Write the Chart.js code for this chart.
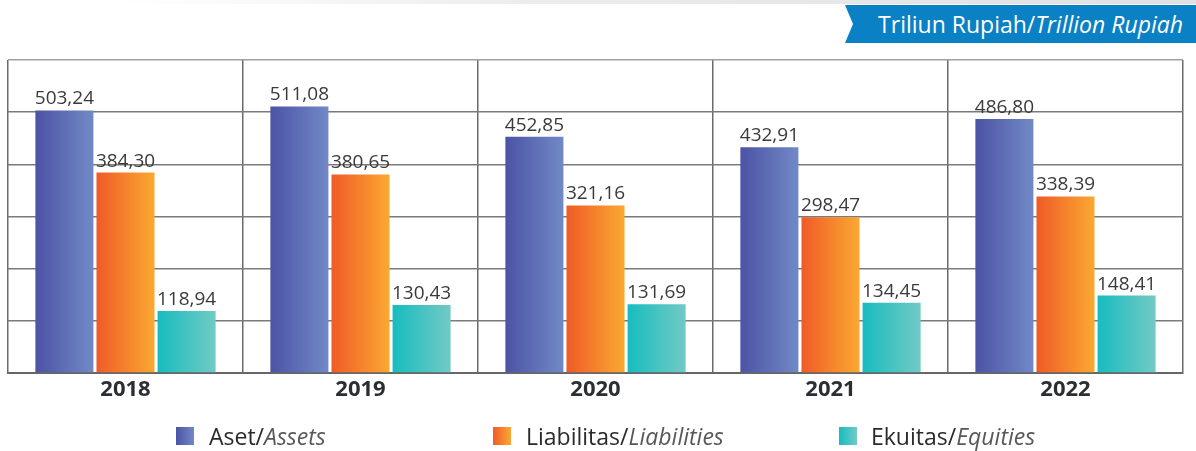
<!DOCTYPE html>
<html>
<head>
<meta charset="utf-8">
<script src="https://cdn.jsdelivr.net/npm/chart.js@4/dist/chart.umd.min.js"></script>
<style>
  html, body { margin: 0; padding: 0; background: #fff; }
  body { width: 1196px; height: 451px; position: relative; overflow: hidden; font-family: "Open Sans", sans-serif; }
  #strip { position: absolute; left: 0; top: 0; width: 1196px; height: 4px;
    background: linear-gradient(to right, #ffffff 10%, #ececee 45%, #e0e0e2 100%); }
  #banner { position: absolute; left: 845px; top: 5px; width: 351px; height: 38px; background: #0a80c5;
    clip-path: polygon(0 0, 100% 0, 100% 100%, 0 100%, 8px 50%); }
  #banner span.t { position: absolute; right: 13px; top: 4px; color: #fff; font-size: 23px; line-height: 30px; white-space: nowrap; }
  #wrap { position: absolute; left: 0; top: 0; width: 1196px; height: 451px; }
  .leg { position: absolute; top: 421px; font-size: 23px; line-height: 30px; color: #2a2a2a; white-space: nowrap; }
  .leg i { color: #585858; }
  .sw { position: absolute; top: 427px; width: 18px; height: 18px; }
</style>
</head>
<body>
<div id="strip"></div>
<div id="banner"><span class="t">Triliun Rupiah/<i>Trillion Rupiah</i></span></div>
<div id="wrap"><canvas id="c" width="1196" height="451"></canvas></div>
<div class="sw" id="sw0" style="left:176px"></div>
<div class="leg" style="left:209px">Aset/<i>Assets</i></div>
<div class="sw" id="sw1" style="left:493px"></div>
<div class="leg" style="left:526px">Liabilitas/<i>Liabilities</i></div>
<div class="sw" id="sw2" style="left:839px"></div>
<div class="leg" style="left:871px">Ekuitas/<i>Equities</i></div>
<script>
const years = ["2018", "2019", "2020", "2021", "2022"];
const assets = [503.24, 511.08, 452.85, 432.91, 486.80];
const liabilities = [384.30, 380.65, 321.16, 298.47, 338.39];
const equities = [118.94, 130.43, 131.69, 134.45, 148.41];
const yTicks = [0, 100, 200, 300, 400, 500, 600];

const gradStops = [
  ["#4c53a5", "#7189c6"],
  ["#f05a28", "#faa931"],
  ["#17bcbf", "#72cac5"]
];
gradStops.forEach((g, i) => {
  document.getElementById("sw" + i).style.background = `linear-gradient(to right, ${g[0]}, ${g[1]})`;
});

const gradientPlugin = {
  id: "barGradients",
  beforeDatasetsDraw(chart) {
    const ctx = chart.ctx;
    chart.data.datasets.forEach((ds, di) => {
      const meta = chart.getDatasetMeta(di);
      meta.data.forEach(bar => {
        const l = bar.x - bar.width / 2, r = bar.x + bar.width / 2;
        const g = ctx.createLinearGradient(l, 0, r, 0);
        g.addColorStop(0, gradStops[di][0]);
        g.addColorStop(1, gradStops[di][1]);
        bar.options = Object.assign({}, bar.options, { backgroundColor: g });
      });
    });
  }
};

const labelPlugin = {
  id: "valueLabels",
  afterDatasetsDraw(chart) {
    const ctx = chart.ctx;
    ctx.save();
    ctx.font = '19px "Open Sans"';
    ctx.fillStyle = "#3a3a3a";
    ctx.textAlign = "center";
    ctx.textBaseline = "alphabetic";
    chart.data.datasets.forEach((ds, di) => {
      const meta = chart.getDatasetMeta(di);
      meta.data.forEach((bar, i) => {
        const txt = ds.data[i].toFixed(2).replace(".", ",");
        ctx.fillText(txt, bar.x, bar.y - 6);
      });
    });
    ctx.restore();
  }
};

new Chart(document.getElementById("c"), {
  type: "bar",
  data: {
    labels: years,
    datasets: [
      { label: "Aset/Assets", data: assets },
      { label: "Liabilitas/Liabilities", data: liabilities },
      { label: "Ekuitas/Equities", data: equities }
    ]
  },
  options: {
    responsive: false,
    animation: false,
    events: [],
    layout: { padding: { left: 8, right: 13, top: 60, bottom: 0 } },
    datasets: { bar: { categoryPercentage: 0.78, barPercentage: 0.95 } },
    plugins: { legend: { display: false }, tooltip: { enabled: false } },
    scales: {
      x: {
        offset: true,
        grid: { offset: true, color: "#6a6a6a", lineWidth: 1.5, drawTicks: false },
        border: { display: true, color: "#666", width: 2 },
        ticks: { color: "#2b2f33", font: { family: "Open Sans", size: 22, weight: "bold" }, padding: 4 },
        afterFit(s) { s.height = 78; }
      },
      y: {
        min: 0, max: 600,
        afterBuildTicks(s) { s.ticks = yTicks.map(v => ({ value: v })); },
        grid: { color: (c) => c.tick.value === 600 ? "#a0a0a0" : "#7a7a7a", lineWidth: 1.5, drawTicks: false },
        border: { display: false },
        ticks: { display: false },
        afterFit(s) { s.width = 0; }
      }
    }
  },
  plugins: [gradientPlugin, labelPlugin]
});
</script>
</body>
</html>
